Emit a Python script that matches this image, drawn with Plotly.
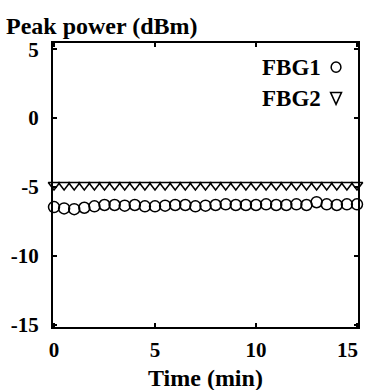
import plotly.graph_objects as go

time_min = [0, 0.5, 1, 1.5, 2, 2.5, 3, 3.5, 4, 4.5, 5, 5.5, 6, 6.5, 7, 7.5,
            8, 8.5, 9, 9.5, 10, 10.5, 11, 11.5, 12, 12.5, 13, 13.5, 14, 14.5, 15]
fbg1 = [-6.45, -6.55, -6.6, -6.5, -6.4, -6.3, -6.3, -6.35, -6.3, -6.4, -6.4,
        -6.35, -6.3, -6.3, -6.4, -6.35, -6.3, -6.25, -6.3, -6.3, -6.3, -6.25,
        -6.3, -6.3, -6.25, -6.3, -6.1, -6.25, -6.3, -6.25, -6.25]
fbg2 = [-4.85, -4.85, -4.85, -4.85, -4.85, -4.85, -4.85, -4.85, -4.85, -4.85,
        -4.85, -4.85, -4.85, -4.85, -4.85, -4.85, -4.85, -4.85, -4.85, -4.85,
        -4.85, -4.85, -4.85, -4.85, -4.85, -4.85, -4.85, -4.85, -4.85, -4.85, -4.85]
x_ticks = [0, 5, 10, 15]
y_ticks = [5, 0, -5, -10, -15]

FONT = "Liberation Serif"

fig = go.Figure()
fig.add_trace(go.Scatter(x=time_min, y=fbg1, mode="markers", name="FBG1",
                         marker=dict(symbol="circle-open", size=11, color="black",
                                     line=dict(width=1.5, color="black")),
                         cliponaxis=False, showlegend=False))
fig.add_trace(go.Scatter(x=time_min, y=fbg2, mode="markers", name="FBG2",
                         marker=dict(symbol="triangle-down-open", size=10, color="black",
                                     line=dict(width=1.5, color="black")),
                         cliponaxis=False, showlegend=False))

axis_common = dict(showline=True, linecolor="black", linewidth=2, mirror="ticks",
                   ticks="inside", ticklen=4, tickcolor="black", tickwidth=1.5,
                   showgrid=False, zeroline=False, automargin=False,
                   tickfont=dict(family=FONT, size=21, color="black"))

# last x tick label is drawn as an annotation so that it stays inside the page
x_tick_text = ["<b>%d</b>" % v for v in x_ticks[:-1]] + [""]
fig.update_xaxes(range=[-0.05, 15.05], tickvals=x_ticks, ticktext=x_tick_text,
                 ticklabelstandoff=3, **axis_common)
fig.update_yaxes(range=[-15.15, 5.45], tickvals=y_ticks,
                 ticktext=["<b>%d</b>" % v for v in y_ticks],
                 ticklabelstandoff=8, **axis_common)
fig.add_annotation(text="<b>%d</b>" % x_ticks[-1], xref="x", yref="paper",
                   x=x_ticks[-1], y=0, xanchor="right", yanchor="top",
                   xshift=3, yshift=-9, showarrow=False,
                   font=dict(family=FONT, size=21, color="black"))

# axis titles
fig.add_annotation(text="<b>Peak power (dBm)</b>", xref="paper", yref="paper",
                   x=-0.162, y=1.0, xanchor="left", yanchor="bottom", yshift=2,
                   showarrow=False, font=dict(family=FONT, size=24, color="black"))
fig.add_annotation(text="<b>Time (min)</b>", xref="paper", yref="paper",
                   x=0.5, y=0, xanchor="center", yanchor="top", yshift=-36,
                   showarrow=False, font=dict(family=FONT, size=24, color="black"))

# custom legend (text + symbol on right)
fig.add_annotation(text="<b>FBG1</b>", xref="paper", yref="paper", x=0.885, y=0.915,
                   xanchor="right", yanchor="middle", showarrow=False,
                   font=dict(family=FONT, size=23, color="black"))
fig.add_annotation(text="<b>FBG2</b>", xref="paper", yref="paper", x=0.885, y=0.805,
                   xanchor="right", yanchor="middle", showarrow=False,
                   font=dict(family=FONT, size=23, color="black"))
fig.add_shape(type="circle", xref="paper", yref="paper",
              x0=0.912, x1=0.944, y0=0.897, y1=0.933,
              line=dict(color="black", width=1.5))
fig.add_shape(type="path", xref="paper", yref="paper",
              path="M 0.910 0.826 L 0.946 0.826 L 0.928 0.784 Z",
              line=dict(color="black", width=1.5))

fig.update_layout(width=365, height=390, margin=dict(l=53, r=7, t=43, b=63),
                  plot_bgcolor="white", paper_bgcolor="white",
                  font=dict(family=FONT, color="black"))

fig.write_html("out.html")
